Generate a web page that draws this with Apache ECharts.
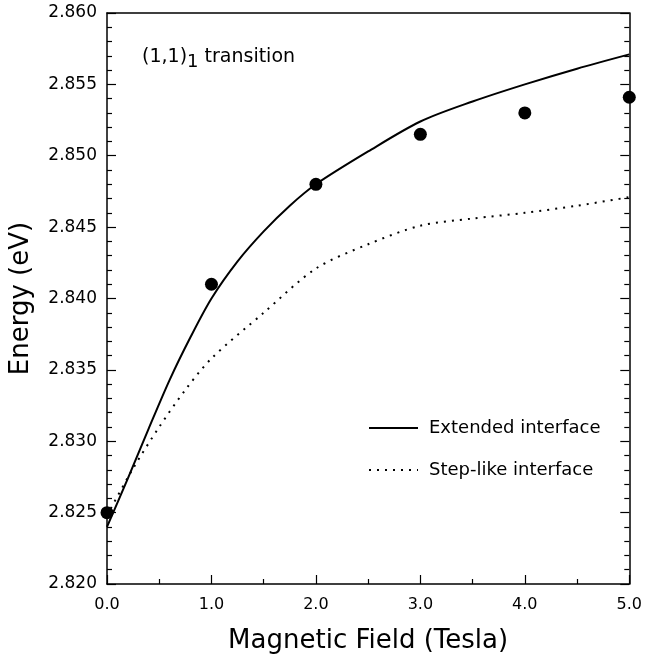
<!DOCTYPE html>
<html>
<head>
<meta charset="utf-8">
<script src="https://cdn.jsdelivr.net/npm/echarts@6/dist/echarts.min.js"></script>
<style>html,body{margin:0;padding:0;background:#fff}#c{width:645px;height:660px}</style>
</head>
<body>
<div id="c"></div>
<script>
// Measured points (filled circles)
const measField = [0, 1, 2, 3, 4, 5];
const measEnergy = [2.8250, 2.8410, 2.8480, 2.8515, 2.8530, 2.8541];

// Extended interface (solid)
const extField = [0, 0.2, 0.4, 0.6, 0.8, 1.0, 1.25, 1.5, 1.75, 2.0, 2.5, 3.0, 3.5, 4.0, 4.5, 5.0];
const extEnergy = [2.8240, 2.8274, 2.8309, 2.8343, 2.8373, 2.8400, 2.8426, 2.8447, 2.8465, 2.8480, 2.8503, 2.8524, 2.8538, 2.8550, 2.8561, 2.8571];

// Step-like interface (dotted)
const stepField = [0, 0.25, 0.5, 0.75, 1.0, 1.5, 2.0, 2.5, 3.0, 3.5, 4.0, 4.5, 5.0];
const stepEnergy = [2.8248, 2.8281, 2.8310, 2.8336, 2.8358, 2.8390, 2.8421, 2.8438, 2.8451, 2.8456, 2.8460, 2.8465, 2.8471];

const seriesNames = ['Extended interface', 'Step-like interface'];
const xTitle = 'Magnetic Field (Tesla)';
const yTitle = 'Energy (eV)';

const zip = (a, b) => a.map((v, i) => [v, b[i]]);
const font = 'DejaVu Sans, Verdana, sans-serif';

const chart = echarts.init(document.getElementById('c'), null, {renderer: 'canvas'});
chart.setOption({
  backgroundColor: '#fff',
  animation: false,
  grid: {left: 107, right: 14, top: 13, bottom: 76},
  legend: {
    orient: 'vertical', left: 363, top: 414,
    itemWidth: 49, itemHeight: 14, itemGap: 24,
    data: seriesNames,
    itemStyle: {opacity: 0},
    textStyle: {fontFamily: font, fontSize: 18, color: '#000', padding: [0, 0, 0, 6]}
  },
  xAxis: [{
    type: 'value', min: 0, max: 5, interval: 1,
    name: xTitle, nameLocation: 'middle', nameGap: 44,
    nameTextStyle: {fontFamily: font, fontSize: 26, color: '#000'},
    axisLine: {onZero: false, lineStyle: {color: '#000', width: 1.5}},
    axisTick: {inside: true, length: 9, lineStyle: {color: '#000', width: 1.2}},
    minorTick: {show: true, splitNumber: 2, length: 5, lineStyle: {color: '#000', width: 1.2}},
    splitLine: {show: false},
    axisLabel: {fontFamily: font, fontSize: 16, color: '#000', margin: 13, formatter: v => v.toFixed(1)}
  }, {
    type: 'value', min: 0, max: 5, position: 'top',
    axisLine: {show: true, onZero: false, lineStyle: {color: '#000', width: 1.5}},
    axisTick: {show: false}, axisLabel: {show: false}, splitLine: {show: false}
  }],
  yAxis: [{
    type: 'value', min: 2.82, max: 2.86, interval: 0.005,
    name: yTitle, nameLocation: 'middle', nameGap: 73, nameRotate: 90,
    nameTextStyle: {fontFamily: font, fontSize: 26, color: '#000'},
    axisLine: {show: true, onZero: false, lineStyle: {color: '#000', width: 1.5}},
    axisTick: {inside: true, length: 9, lineStyle: {color: '#000', width: 1.2}},
    minorTick: {show: true, splitNumber: 5, length: 5, lineStyle: {color: '#000', width: 1.2}},
    splitLine: {show: false},
    axisLabel: {fontFamily: font, fontSize: 17, color: '#000', margin: 10, formatter: v => v.toFixed(3)}
  }, {
    type: 'value', min: 2.82, max: 2.86, interval: 0.005, position: 'right',
    axisLine: {show: true, onZero: false, lineStyle: {color: '#000', width: 1.5}},
    axisTick: {inside: true, length: 9, lineStyle: {color: '#000', width: 1.2}},
    minorTick: {show: true, splitNumber: 5, length: 5, lineStyle: {color: '#000', width: 1.2}},
    axisLabel: {show: false}, splitLine: {show: false}
  }],
  graphic: [{
    type: 'text', left: 142, top: 48,
    style: {
      text: '(1,1){s|1} transition',
      rich: {s: {fontFamily: font, fontSize: 18, color: '#000', padding: [10, 0, 0, 0]}},
      font: '19px ' + font, fill: '#000'
    }
  }],
  series: [{
    name: seriesNames[0], type: 'line', data: zip(extField, extEnergy),
    smooth: 0.3, symbol: 'none', clip: false,
    lineStyle: {color: '#000', width: 2, type: 'solid'},
    itemStyle: {color: '#000'}
  }, {
    name: seriesNames[1], type: 'line', data: zip(stepField, stepEnergy),
    smooth: 0.3, symbol: 'none', clip: false,
    lineStyle: {color: '#000', width: 2, type: [2, 6]},
    itemStyle: {color: '#000'}
  }, {
    name: 'Measured', type: 'scatter', data: zip(measField, measEnergy),
    symbol: 'circle', symbolSize: 13, clip: false,
    itemStyle: {color: '#000', opacity: 1}, z: 5
  }]
});
</script>
</body>
</html>
